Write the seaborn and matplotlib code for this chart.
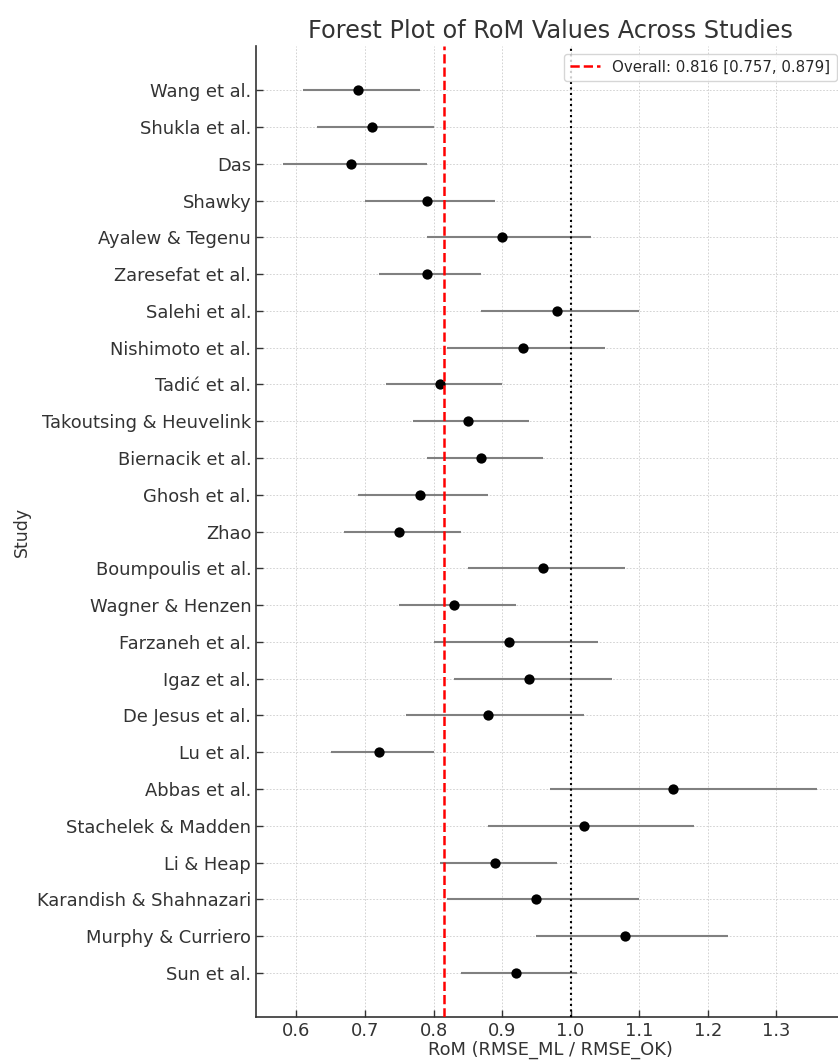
import numpy as np
import pandas as pd
import seaborn as sns
import matplotlib.pyplot as plt

# study estimates
studies = ['Wang et al.', 'Shukla et al.', 'Das', 'Shawky', 'Ayalew & Tegenu',
           'Zaresefat et al.', 'Salehi et al.', 'Nishimoto et al.', 'Tadić et al.',
           'Takoutsing & Heuvelink', 'Biernacik et al.', 'Ghosh et al.', 'Zhao',
           'Boumpoulis et al.', 'Wagner & Henzen', 'Farzaneh et al.', 'Igaz et al.',
           'De Jesus et al.', 'Lu et al.', 'Abbas et al.', 'Stachelek & Madden',
           'Li & Heap', 'Karandish & Shahnazari', 'Murphy & Curriero', 'Sun et al.']
rom = [0.69, 0.71, 0.68, 0.79, 0.90, 0.79, 0.98, 0.93, 0.81, 0.85, 0.87, 0.78, 0.75,
       0.96, 0.83, 0.91, 0.94, 0.88, 0.72, 1.15, 1.02, 0.89, 0.95, 1.08, 0.92]
ci_low = [0.61, 0.63, 0.58, 0.70, 0.79, 0.72, 0.87, 0.82, 0.73, 0.77, 0.79, 0.69, 0.67,
          0.85, 0.75, 0.80, 0.83, 0.76, 0.65, 0.97, 0.88, 0.81, 0.82, 0.95, 0.84]
ci_high = [0.78, 0.80, 0.79, 0.89, 1.03, 0.87, 1.10, 1.05, 0.90, 0.94, 0.96, 0.88, 0.84,
           1.08, 0.92, 1.04, 1.06, 1.02, 0.80, 1.36, 1.18, 0.98, 1.10, 1.23, 1.01]

# pooled estimate
overall = 0.816
overall_low = 0.757
overall_high = 0.879

x_ticks = [0.6, 0.7, 0.8, 0.9, 1.0, 1.1, 1.2, 1.3]

df = pd.DataFrame({'study': studies, 'rom': rom, 'lo': ci_low, 'hi': ci_high})
df['pos'] = np.arange(len(df))

sns.set_theme(style='whitegrid')
plt.rcParams['font.family'] = ['DejaVu Sans']
text_col = '#333333'

fig = plt.figure(figsize=(8.38, 10.61), dpi=100)
ax = fig.add_axes([0.3055, 0.0415, 0.7017, 0.9151])

# confidence intervals and point estimates
ax.hlines(df['pos'], df['lo'], df['hi'], color='gray', lw=1.5, zorder=2)
sns.scatterplot(data=df, x='rom', y='pos', color='black', s=55,
                linewidth=0, zorder=3, ax=ax)

ax.axvline(overall, color='red', ls='--', lw=1.8, zorder=4,
           label=f'Overall: {overall:.3f} [{overall_low:.3f}, {overall_high:.3f}]')
ax.axvline(1.0, color='black', ls=':', lw=1.5, zorder=4)

ax.set_yticks(df['pos'])
ax.set_yticklabels(df['study'])
ax.set_xticks(x_ticks)
ax.set_xticklabels([f'{t:.1f}' for t in x_ticks])
ax.invert_yaxis()

ax.grid(True, ls=(0, (2, 2)), lw=0.6, color='#cccccc')
sns.despine(ax=ax)
for side in ['left', 'bottom']:
    ax.spines[side].set_color(text_col)
    ax.spines[side].set_linewidth(1.2)

ax.tick_params(axis='both', bottom=True, left=True, direction='in', length=5,
               width=1, color=text_col, labelcolor=text_col, labelsize=12.9)

ax.set_title('Forest Plot of RoM Values Across Studies', fontsize=17.3, color=text_col)
ax.set_xlabel('RoM (RMSE_ML / RMSE_OK)', fontsize=12.9, color=text_col, labelpad=1)
ax.set_ylabel('Study', fontsize=12.5, color=text_col)
ax.legend(loc='upper right', fontsize=10.8)

fig.savefig('out.png', dpi=100)
